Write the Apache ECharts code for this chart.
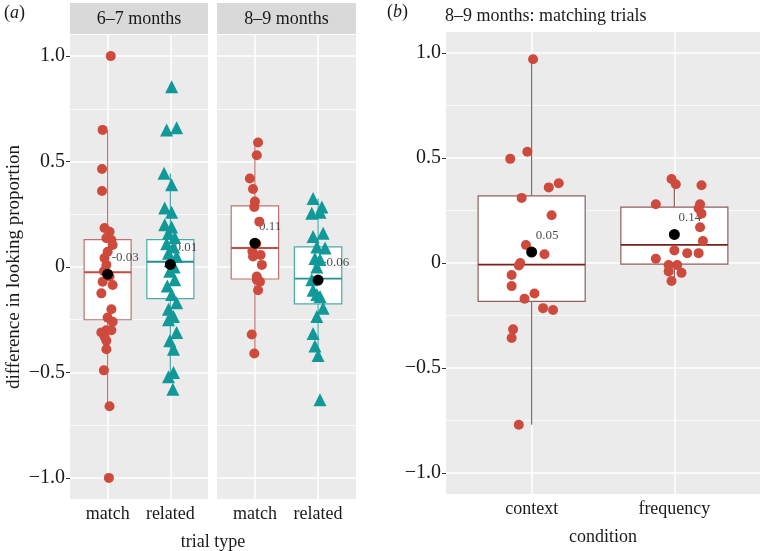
<!DOCTYPE html>
<html>
<head>
<meta charset="utf-8">
<script src="https://cdn.jsdelivr.net/npm/echarts@6/dist/echarts.min.js"></script>
<style>
  html, body { margin: 0; padding: 0; background: #fff; }
  #chart { width: 761px; height: 551px; }
</style>
</head>
<body>
<div id="chart"></div>
<script>
const FONT = '"Liberation Serif", "DejaVu Serif", serif'

const ageGroups = ['6–7 months', '8–9 months']
const trialTypes = ['match', 'related']
const conditions = ['context', 'frequency']
const yTicks = [-1, -0.5, 0, 0.5, 1]
const yMinorTicks = [-0.75, -0.25, 0.25, 0.75]

// jittered points [position, value]
const youngMatch = [
  [1.05, 1.0], [0.92, 0.65], [0.91, 0.465], [0.91, 0.36], [0.95, 0.185], [1.03, 0.167],
  [1.06, 0.128], [0.98, 0.137], [1.08, 0.104], [1.0, 0.072], [0.95, 0.043], [0.98, 0.01],
  [0.94, -0.02], [1.03, -0.045], [0.92, -0.07], [1.08, -0.085], [0.9, -0.125], [1.06, -0.2],
  [1.0, -0.24], [1.08, -0.26], [0.98, -0.3], [1.06, -0.3], [0.9, -0.31], [0.95, -0.33],
  [0.98, -0.35], [0.98, -0.39], [0.94, -0.49], [1.03, -0.66], [1.02, -1.0]
]
const youngRelated = [
  [2.02, 0.855], [1.94, 0.65], [2.1, 0.66], [1.9, 0.445], [2.02, 0.39], [1.91, 0.28],
  [2.02, 0.26], [1.91, 0.2], [2.02, 0.19], [1.97, 0.16], [2.07, 0.14], [1.94, 0.11],
  [2.05, 0.095], [1.97, 0.065], [2.1, 0.05], [2.0, 0.03], [2.06, 0.0], [1.99, -0.02],
  [2.07, -0.06], [1.95, -0.09], [2.02, -0.13], [2.1, -0.17], [1.97, -0.2], [2.05, -0.235],
  [1.97, -0.25], [2.1, -0.31], [1.99, -0.35], [2.05, -0.39], [2.05, -0.5], [1.97, -0.52],
  [2.04, -0.58]
]
const oldMatch = [
  [1.05, 0.59], [1.03, 0.53], [0.92, 0.42], [0.97, 0.37], [1.0, 0.31], [0.99, 0.285],
  [1.07, 0.215], [1.02, 0.11], [0.96, 0.075], [0.97, 0.05], [1.09, 0.057], [1.11, 0.01],
  [1.03, -0.045], [1.03, -0.06], [1.08, -0.07], [1.05, -0.11], [0.95, -0.32], [0.99, -0.41]
]
const oldRelated = [
  [1.92, 0.325], [2.06, 0.285], [1.9, 0.255], [2.03, 0.26], [1.92, 0.145], [2.08, 0.16],
  [1.98, 0.095], [2.11, 0.09], [1.95, 0.04], [2.03, 0.035], [1.98, 0.0], [1.9, -0.06],
  [1.92, -0.11], [1.98, -0.13], [2.03, -0.14], [2.08, -0.195], [1.98, -0.235], [1.92, -0.315],
  [1.95, -0.375], [2.0, -0.42], [2.03, -0.63]
]
const contextTrials = [
  [1.01, 0.97], [0.85, 0.496], [0.97, 0.53], [1.12, 0.36], [1.19, 0.38], [0.93, 0.31],
  [1.14, 0.227], [0.96, 0.086], [1.09, 0.042], [0.92, 0.0], [0.91, -0.012], [0.86, -0.057],
  [0.86, -0.11], [1.02, -0.145], [0.95, -0.17], [1.08, -0.215], [1.15, -0.224], [0.87, -0.316],
  [0.86, -0.357], [0.91, -0.77]
]
const frequencyTrials = [
  [1.98, 0.4], [2.01, 0.375], [2.19, 0.37], [1.87, 0.28], [2.18, 0.28], [2.17, 0.26],
  [2.19, 0.235], [2.18, 0.17], [2.2, 0.105], [2.0, 0.06], [2.09, 0.047], [2.17, 0.047],
  [1.87, 0.02], [1.96, -0.01], [2.02, -0.01], [1.96, -0.04], [2.05, -0.047], [1.98, -0.086]
]

// boxes [position, lower whisker, q1, median, q3, upper whisker]
const youngBoxes = [[1, -0.66, -0.25, -0.025, 0.13, 0.65], [2, -0.52, -0.15, 0.025, 0.13, 0.445]]
const oldBoxes = [[1, -0.41, -0.057, 0.09, 0.29, 0.59], [2, -0.42, -0.175, -0.055, 0.095, 0.325]]
const conditionBoxes = [[1, -0.77, -0.183, -0.008, 0.32, 0.97], [2, -0.086, -0.005, 0.086, 0.266, 0.4]]

// means [position, value]
const youngMeans = [[1, -0.034], [2, 0.012]]
const oldMeans = [[1, 0.113], [2, -0.062]]
const conditionMeans = [[1, 0.052], [2, 0.136]]

const RED = '#CD4A3D'
const TEAL = '#11999A'
const edgeA = ['#BF726C', '#4DAAAA']
const medianA = ['#C44B42', '#23908F']
const edgeB = ['#8E5F5F', '#8E5F5F']
const medianB = ['#7A1E1E', '#7A1E1E']

const chart = echarts.init(document.getElementById('chart'))

function makeBoxRenderer(edges, medians) {
  return function (params, api) {
    const x = api.value(0)
    const half = 0.375
    const lo = api.coord([x, api.value(1)])
    const q1 = api.coord([x, api.value(2)])
    const med = api.coord([x, api.value(3)])
    const q3 = api.coord([x, api.value(4)])
    const hi = api.coord([x, api.value(5)])
    const left = api.coord([x - half, 0])[0]
    const right = api.coord([x + half, 0])[0]
    const edge = edges[params.dataIndex]
    return {
      type: 'group',
      children: [
        { type: 'line', shape: { x1: hi[0], y1: hi[1], x2: q3[0], y2: q3[1] }, style: { stroke: edge, lineWidth: 1.2 } },
        { type: 'line', shape: { x1: q1[0], y1: q1[1], x2: lo[0], y2: lo[1] }, style: { stroke: edge, lineWidth: 1.2 } },
        { type: 'rect', shape: { x: left, y: q3[1], width: right - left, height: q1[1] - q3[1] }, style: { fill: '#fff', stroke: edge, lineWidth: 1.2 } },
        { type: 'line', shape: { x1: left, y1: med[1], x2: right, y2: med[1] }, style: { stroke: medians[params.dataIndex], lineWidth: 1.8 } }
      ]
    }
  }
}

function gridLines(idx) {
  return {
    type: 'scatter', xAxisIndex: idx, yAxisIndex: idx, data: [], z: 1, silent: true,
    markLine: {
      silent: true, symbol: 'none', label: { show: false }, animation: false, z: 1,
      data: [
        ...yMinorTicks.map(v => ({ yAxis: v, lineStyle: { color: '#fff', width: 0.8, type: 'solid' } })),
        ...yTicks.map(v => ({ yAxis: v, lineStyle: { color: '#fff', width: 1.5, type: 'solid' } })),
        ...[1, 2].map(v => ({ xAxis: v, lineStyle: { color: '#fff', width: 1.5, type: 'solid' } }))
      ]
    }
  }
}

function panelSeries(idx, boxes, edges, medians, a, b, means, shapeB) {
  return [
    gridLines(idx),
    { type: 'custom', xAxisIndex: idx, yAxisIndex: idx, data: boxes, z: 2, renderItem: makeBoxRenderer(edges, medians), silent: true },
    {
      type: 'scatter', xAxisIndex: idx, yAxisIndex: idx, data: means, z: 3, symbolSize: 0.1,
      label: {
        show: true, position: 'right', distance: 4, offset: [0, -17],
        formatter: p => p.value[1].toFixed(2), fontFamily: FONT, fontSize: 13, color: '#1a1a1a'
      }
    },
    { type: 'scatter', xAxisIndex: idx, yAxisIndex: idx, data: a, z: 4, symbol: 'circle', symbolSize: 10, itemStyle: { color: RED, opacity: 1 } },
    { type: 'scatter', xAxisIndex: idx, yAxisIndex: idx, data: b, z: 4, symbol: shapeB, symbolSize: shapeB === 'triangle' ? 13 : 10, itemStyle: { color: shapeB === 'triangle' ? TEAL : RED, opacity: 1 } },
    { type: 'scatter', xAxisIndex: idx, yAxisIndex: idx, data: means, z: 5, symbol: 'circle', symbolSize: 11, itemStyle: { color: '#000', opacity: 1 } }
  ]
}

function xAxisFor(idx, cats, name) {
  return {
    type: 'value', gridIndex: idx, min: 0.4, max: 2.6,
    axisLine: { show: false },
    axisTick: { show: true, customValues: [1, 2], length: 4, lineStyle: { color: '#333', width: 1 } },
    axisLabel: { customValues: [1, 2], formatter: v => cats[Math.round(v) - 1], fontFamily: FONT, fontSize: 18, color: '#1a1a1a', margin: 6 },
    splitLine: { show: false },
    name: name || '', nameLocation: 'middle', nameGap: 34,
    nameTextStyle: { fontFamily: FONT, fontSize: 18, color: '#1a1a1a' }
  }
}

function yAxisFor(idx, showLabels, name) {
  return {
    type: 'value', gridIndex: idx, min: -1.1, max: 1.1,
    axisLine: { show: false },
    axisTick: { show: showLabels, customValues: yTicks, length: 4, lineStyle: { color: '#333', width: 1 } },
    axisLabel: {
      show: showLabels, customValues: yTicks, fontFamily: FONT, fontSize: 20, color: '#1a1a1a', margin: 5,
      formatter: v => v === 0 ? '0' : v.toFixed(1).replace('-', '\u2212')
    },
    splitLine: { show: false },
    name: name || '', nameLocation: 'middle', nameGap: 46,
    nameTextStyle: { fontFamily: FONT, fontSize: 19, color: '#1a1a1a' }
  }
}

const gridStyle = { show: true, backgroundColor: '#EBEBEB', borderWidth: 0, containLabel: false }

chart.setOption({
  animation: false,
  grid: [
    { left: 70, top: 35, width: 138, height: 464, ...gridStyle },
    { left: 217, top: 35, width: 139, height: 464, ...gridStyle },
    { left: 446, top: 32, width: 314, height: 466, ...gridStyle }
  ],
  xAxis: [
    xAxisFor(0, trialTypes),
    xAxisFor(1, trialTypes),
    xAxisFor(2, conditions, 'condition')
  ],
  yAxis: [
    yAxisFor(0, true, 'difference in looking proportion'),
    yAxisFor(1, false),
    yAxisFor(2, true)
  ],
  graphic: [
    { type: 'rect', shape: { x: 70, y: 3, width: 138, height: 31 }, style: { fill: '#D9D9D9' }, silent: true },
    { type: 'rect', shape: { x: 217, y: 3, width: 139, height: 31 }, style: { fill: '#D9D9D9' }, silent: true },
    { type: 'text', x: 139, y: 19, style: { text: ageGroups[0], font: '18px ' + FONT, fill: '#1a1a1a', textAlign: 'center', textVerticalAlign: 'middle' } },
    { type: 'text', x: 286.5, y: 19, style: { text: ageGroups[1], font: '18px ' + FONT, fill: '#1a1a1a', textAlign: 'center', textVerticalAlign: 'middle' } },
    { type: 'text', x: 213, y: 542, style: { text: 'trial type', font: '18px ' + FONT, fill: '#1a1a1a', textAlign: 'center', textVerticalAlign: 'middle' } },
    { type: 'text', x: 4, y: 13, style: { text: '({i|a})', font: '18px ' + FONT, fill: '#1a1a1a', textVerticalAlign: 'middle', rich: { i: { fontStyle: 'italic', fontFamily: FONT, fontSize: 18 } } } },
    { type: 'text', x: 387, y: 12, style: { text: '({i|b})', font: '18px ' + FONT, fill: '#1a1a1a', textVerticalAlign: 'middle', rich: { i: { fontStyle: 'italic', fontFamily: FONT, fontSize: 18 } } } },
    { type: 'text', x: 445, y: 16, style: { text: '8–9 months: matching trials', font: '18px ' + FONT, fill: '#1a1a1a', textVerticalAlign: 'middle' } }
  ],
  series: [
    ...panelSeries(0, youngBoxes, edgeA, medianA, youngMatch, youngRelated, youngMeans, 'triangle'),
    ...panelSeries(1, oldBoxes, edgeA, medianA, oldMatch, oldRelated, oldMeans, 'triangle'),
    ...panelSeries(2, conditionBoxes, edgeB, medianB, contextTrials, frequencyTrials, conditionMeans, 'circle')
  ]
})

window.addEventListener('resize', () => chart.resize())
</script>
</body>
</html>
